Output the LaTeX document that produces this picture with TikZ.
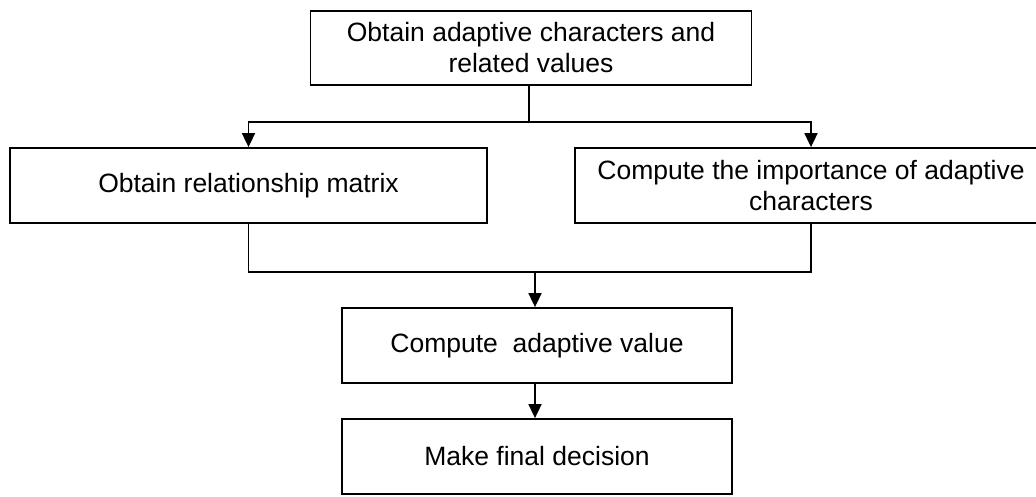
\documentclass[tikz,border=0pt]{standalone}
\usepackage{fontspec}
\setmainfont{Liberation Sans}
\usetikzlibrary{arrows.meta}
\begin{document}
\begin{tikzpicture}[x=1pt,y=-1pt,
  box/.style={draw, line width=1.8pt, rectangle, align=center,
    inner sep=0pt, font=\fontsize{26.5}{31}\selectfont},
  link/.style={line width=1.8pt},
  arrow/.style={link, -{Triangle[length=14pt,width=13pt]}}]
\useasboundingbox (0,0) rectangle (1036,496);

\node[box, minimum width=441pt, minimum height=74pt] (top) at (531,48)
  {Obtain adaptive characters and\\related values};
\node[box, minimum width=477pt, minimum height=75pt] (left) at (248.5,185.5)
  {Obtain relationship matrix};
\node[box, minimum width=472pt, minimum height=75pt] (right) at (811,185.5)
  {Compute the importance of adaptive\\characters};
\node[box, minimum width=390pt, minimum height=75pt] (mid) at (537,345.5)
  {Compute\ \ adaptive value};
\node[box, minimum width=390pt, minimum height=75pt] (final) at (537,456.5)
  {Make final decision};

% split from the first step to both branches
\coordinate (busA) at (529,122);
\draw[link] (top.south -| busA) -- (busA);
\draw[arrow] (busA) -| (left.north);
\draw[arrow] (busA) -| (right.north);

% join both branches into the adaptive value step
\coordinate (busB) at (248.5,272);
\draw[link] (left.south) -- (busB) -| (right.south);
\coordinate (drop) at (535,272);
\draw[arrow] (drop) -- (drop |- mid.north);

\draw[arrow] (drop |- mid.south) -- (drop |- final.north);
\end{tikzpicture}
\end{document}
